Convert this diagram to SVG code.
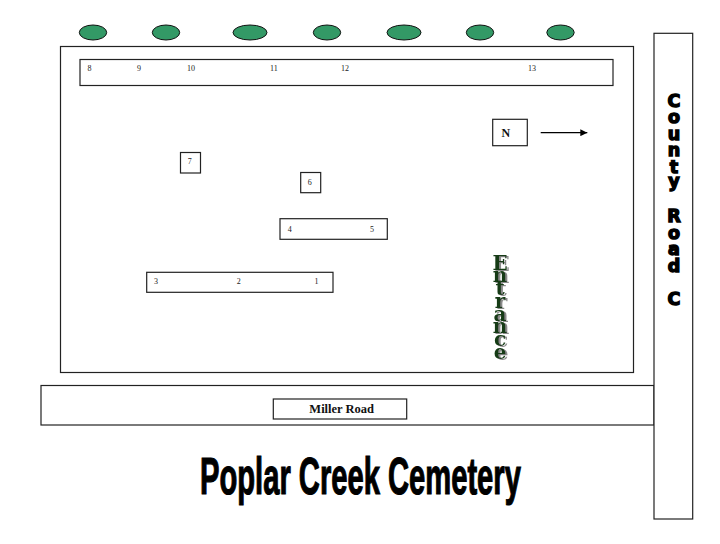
<svg xmlns="http://www.w3.org/2000/svg" width="720" height="544" viewBox="0 0 720 544">
<defs>
<style>
.box{fill:#fff;stroke:#222;stroke-width:1.2}
.tree{fill:#339966;stroke:#111;stroke-width:1}
.num{font-family:"Liberation Serif",serif;font-size:8px;fill:#222}
.cr{font-family:"DejaVu Sans",sans-serif;font-weight:bold;font-size:17.5px;text-anchor:middle;fill:#000;stroke:#000;stroke-width:1.4}
.ent{font-family:"DejaVu Serif",serif;font-weight:bold;font-size:20px;text-anchor:middle;fill:#123a12}
</style>
<marker id="ah" viewBox="0 0 10 10" refX="10" refY="5" markerWidth="8" markerHeight="7" markerUnits="userSpaceOnUse" orient="auto">
<path d="M0,0 L10,5 L0,10 z" fill="#000"/>
</marker>
<filter id="sh" x="-30%" y="-5%" width="160%" height="115%">
<feOffset in="SourceAlpha" dx="1.5" dy="1.2" result="o"/>
<feFlood flood-color="#8a8a8a"/>
<feComposite in2="o" operator="in" result="s"/>
<feMerge><feMergeNode in="s"/><feMergeNode in="SourceGraphic"/></feMerge>
</filter>
</defs>
<rect width="720" height="544" fill="#fff"/>
<g id="trees">
<ellipse class="tree" cx="93" cy="32.5" rx="13.7" ry="7.5"/>
<ellipse class="tree" cx="166" cy="32.5" rx="13.7" ry="7.5"/>
<ellipse class="tree" cx="250" cy="32.5" rx="17" ry="7.5"/>
<ellipse class="tree" cx="327" cy="32.5" rx="13.7" ry="7.5"/>
<ellipse class="tree" cx="404" cy="32.5" rx="17" ry="7.5"/>
<ellipse class="tree" cx="480" cy="32.5" rx="13.7" ry="7.5"/>
<ellipse class="tree" cx="560.5" cy="32.5" rx="13.7" ry="7.5"/>
</g>
<g id="cemetery">
<rect class="box" x="60.5" y="46.5" width="573" height="326"/>
</g>
<g id="row-8-13">
<rect class="box" x="80" y="59.5" width="533" height="26"/>
<text class="num" x="87.5" y="71">8</text>
<text class="num" x="137" y="71">9</text>
<text class="num" x="187" y="71">10</text>
<text class="num" x="270" y="71">11</text>
<text class="num" x="341" y="71">12</text>
<text class="num" x="528" y="71">13</text>
</g>
<g id="plot-7">
<rect class="box" x="180.5" y="152.5" width="20" height="20.5"/>
<text class="num" x="187.7" y="164">7</text>
</g>
<g id="plot-6">
<rect class="box" x="300.7" y="172.5" width="20" height="20.2"/>
<text class="num" x="307.7" y="185">6</text>
</g>
<g id="row-4-5">
<rect class="box" x="280" y="218.7" width="107.3" height="20.6"/>
<text class="num" x="287.7" y="231.7">4</text>
<text class="num" x="370" y="231.7">5</text>
</g>
<g id="row-1-3">
<rect class="box" x="146.7" y="272.3" width="186.3" height="20"/>
<text class="num" x="154" y="284">3</text>
<text class="num" x="236.7" y="284">2</text>
<text class="num" x="314.5" y="284">1</text>
</g>
<g id="north">
<rect class="box" x="492.7" y="119.3" width="34.6" height="26.4"/>
<text x="501.5" y="136.7" font-family="Liberation Serif,serif" font-weight="bold" font-size="12" fill="#111">N</text>
</g>
<g id="connectors">
<line x1="540.7" y1="132.7" x2="587.3" y2="132.7" stroke="#000" stroke-width="1.2" marker-end="url(#ah)"/>
</g>
<g id="entrance" filter="url(#sh)">
<text class="ent" x="500 500 500 500 500 500 500 500" y="270 282 295 307.5 320.5 333 345.5 358.5">Entrance</text>
</g>
<g id="miller-road">
<rect class="box" x="41" y="385.5" width="613" height="39.5"/>
<rect class="box" x="273.3" y="399" width="133.4" height="20"/>
<text x="341.7" y="413.3" text-anchor="middle" font-family="Liberation Serif,serif" font-weight="bold" font-size="12.5" fill="#111">Miller Road</text>
</g>
<g id="county-road">
<rect class="box" x="654" y="33.3" width="38.7" height="485.7"/>
<text class="cr" x="674 674 674 674 674 674 674 674 674 674 674 674 674" y="106.5 123 139.5 156 172.5 187 205 222 238.5 255 271.5 288 304.5">County Road C</text>
</g>
<g id="title">
<text transform="translate(200,494.3) scale(0.572,1)" x="0" y="0" textLength="561" lengthAdjust="spacingAndGlyphs" font-family="Liberation Sans,Arial,sans-serif" font-weight="bold" font-size="51" fill="#000" stroke="#000" stroke-width="1.2">Poplar Creek Cemetery</text>
</g>
</svg>
